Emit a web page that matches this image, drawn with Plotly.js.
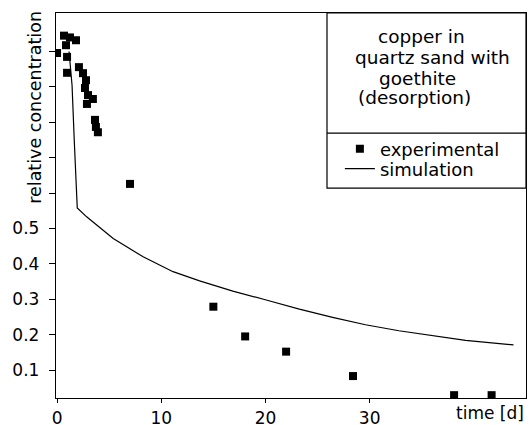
<!DOCTYPE html>
<html>
<head>
<meta charset="utf-8">
<script src="https://cdn.plot.ly/plotly-3.0.1.min.js"></script>
<style>html,body{margin:0;padding:0;background:#fff;}#chart{width:530px;height:425px;}</style>
</head>
<body>
<div id="chart"></div>
<script>
// experimental data: time [d], relative concentration
const expTime = [0, 0.67, 1.24, 1.82, 0.86, 0.96, 0.96, 2.1, 2.49, 2.78, 2.68, 2.97, 3.44, 2.87, 3.64, 3.73, 3.92, 7.0, 15.0, 18.05, 21.98, 28.4, 38.1, 41.7];
const expConc = [0.996, 1.045, 1.040, 1.032, 1.018, 0.985, 0.940, 0.956, 0.939, 0.919, 0.897, 0.877, 0.866, 0.852, 0.807, 0.787, 0.772, 0.626, 0.279, 0.195, 0.152, 0.083, 0.029, 0.029];
// simulation curve
const simTime = [1.15, 1.44, 1.65, 1.78, 1.94, 2.84, 5.39, 8.26, 11.13, 13.68, 16.87, 20.07, 23.25, 26.44, 29.6, 32.8, 36.0, 39.2, 43.8];
const simConc = [1.0, 0.905, 0.75, 0.645, 0.558, 0.533, 0.472, 0.420, 0.378, 0.352, 0.323, 0.298, 0.272, 0.249, 0.228, 0.211, 0.197, 0.184, 0.171];
// ticks
const xTicks = [0, 10, 20, 30];
const yTicks = [0.1, 0.2, 0.3, 0.4, 0.5, 0.6, 0.7, 0.8, 0.9, 1.0];
const yTickText = ['0.1', '0.2', '0.3', '0.4', '0.5', '', '', '', '', ''];
const boxLines = ['copper in', 'quartz sand with', 'goethite', '(desorption)'];

const FONT = 'DejaVu Sans, Liberation Sans, sans-serif';
const xRange = [-0.1, 45.0];
const yRange = [0.021, 1.109];

const traces = [
  {x: expTime, y: expConc, type: 'scatter', mode: 'markers', name: 'experimental', legend: 'legend',
   marker: {symbol: 'square', size: 8, color: '#000'}},
  {x: simTime, y: simConc, type: 'scatter', mode: 'lines', name: 'simulation', legend: 'legend2',
   line: {color: '#000', width: 1.2}}
];

const boxPos = [[0.777, 0.940], [0.802, 0.885], [0.770, 0.831], [0.762, 0.780]];
const annotations = boxLines.map((t, i) => ({
  text: t, xref: 'paper', yref: 'paper', x: boxPos[i][0], y: boxPos[i][1],
  xanchor: 'center', yanchor: 'middle', showarrow: false,
  font: {family: FONT, size: 18.5, color: '#000'}
}));
annotations.push({text: 'time [d]', xref: 'paper', yref: 'paper', x: 0.923, y: -0.039,
  xanchor: 'center', yanchor: 'middle', showarrow: false, font: {family: FONT, size: 17, color: '#000'}});
annotations.push({text: 'relative concentration', xref: 'paper', yref: 'paper', x: -0.045, y: 0.756,
  xanchor: 'center', yanchor: 'middle', textangle: -90, showarrow: false, font: {family: FONT, size: 17.5, color: '#000'}});

const legFont = {family: FONT, size: 18, color: '#000'};
const layout = {
  width: 530, height: 425,
  margin: {l: 56, r: 4, t: 13, b: 27},
  paper_bgcolor: '#fff', plot_bgcolor: '#fff',
  font: {family: FONT, size: 17, color: '#000'},
  showlegend: true,
  legend: {x: 0.604, y: 0.695, xanchor: 'left', yanchor: 'top', bgcolor: 'rgba(0,0,0,0)',
    font: legFont, borderwidth: 0},
  legend2: {x: 0.604, y: 0.643, xanchor: 'left', yanchor: 'top', bgcolor: 'rgba(0,0,0,0)',
    font: legFont, borderwidth: 0},
  xaxis: {range: xRange, tickvals: xTicks, ticks: 'outside', ticklen: 4, tickcolor: '#000',
    showline: true, mirror: true, linecolor: '#000', linewidth: 1.2, showgrid: false, zeroline: false,
    tickfont: {family: FONT, size: 17, color: '#000'}},
  yaxis: {range: yRange, tickvals: yTicks, ticktext: yTickText, ticks: 'outside', ticklen: 6, tickcolor: '#000',
    showline: true, mirror: true, linecolor: '#000', linewidth: 1.2, showgrid: false, zeroline: false,
    ticklabelstandoff: 6, tickfont: {family: FONT, size: 17, color: '#000'}},
  yaxis2: {range: yRange, tickvals: yTicks, ticks: 'inside', ticklen: 6, tickcolor: '#000',
    overlaying: 'y', side: 'left', showticklabels: false, showline: false, showgrid: false, zeroline: false},
  shapes: [
    {type: 'rect', xref: 'paper', yref: 'paper', x0: 0.5766, x1: 1, y0: 0.545, y1: 1,
     line: {color: '#000', width: 1.2}, fillcolor: 'rgba(0,0,0,0)'},
    {type: 'line', xref: 'paper', yref: 'paper', x0: 0.5766, x1: 1, y0: 0.688, y1: 0.688,
     line: {color: '#000', width: 1.2}}
  ],
  annotations: annotations
};

Plotly.newPlot('chart', traces, layout, {staticPlot: true, displayModeBar: false});
</script>
</body>
</html>
